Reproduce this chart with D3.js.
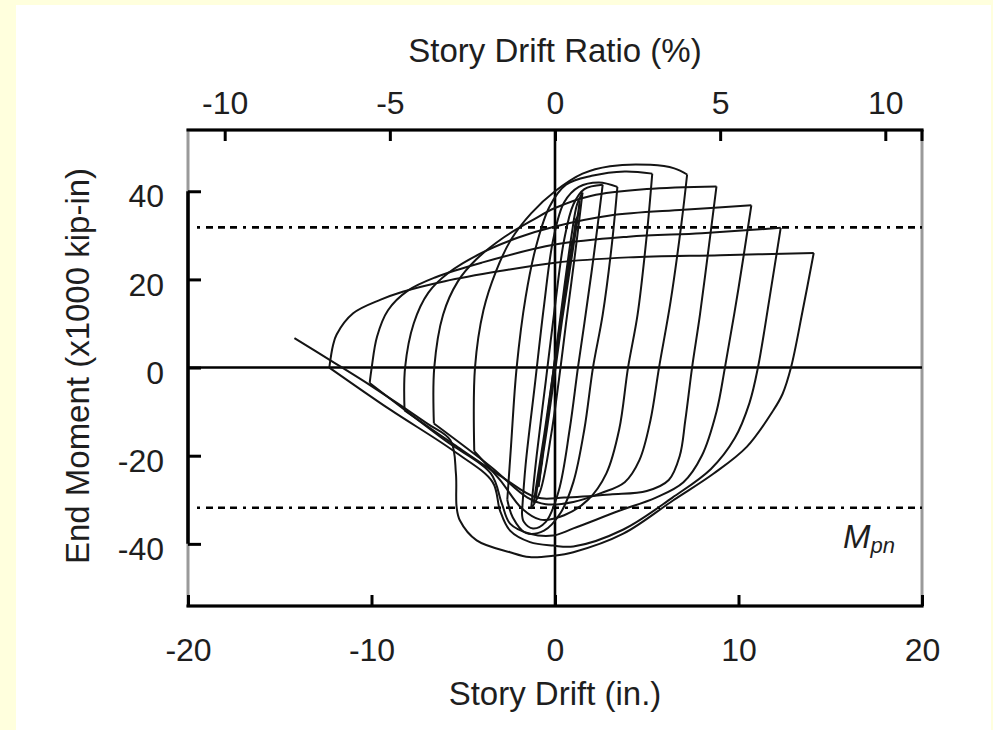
<!DOCTYPE html>
<html><head><meta charset="utf-8">
<script src="https://cdn.jsdelivr.net/npm/d3@7"></script>
<style>
html,body{margin:0;padding:0;background:#FFFFDD;}
svg{display:block;}
</style></head>
<body>
<svg id="chart" width="993" height="730"></svg>
<script>
// ---------- data ----------
const driftTicks = [-20, -10, 0, 10, 20];
const driftTickLabels = ["-20", "-10", "0", "10", "20"];
const ratioTicks = [-10, -5, 0, 5, 10];
const ratioTickLabels = ["-10", "-5", "0", "5", "10"];
const momentTicks = [40, 20, 0, -20, -40];
const momentTickLabels = ["40", "20", "0", "-20", "-40"];
const storyHeightIn = 180;       // story height, in. (1% = 1.8 in.)
const Mpn = 31.8;                // x1000 kip-in

// small elastic cycles (drift in., moment x1000 kip-in)
const elasticCycles = [[0,0],[0.3,9],[0.2,6],[-0.3,-9],[-0.2,-6],[0.5,15],[0.38,11],[-0.5,-15],[-0.38,-11],
  [0.72,22],[0.58,17],[-0.72,-22],[-0.58,-17],[0.95,29],[0.8,24],[-0.9,-27],[-0.75,-22],
  [1.15,34],[1.0,29],[-1.05,-29.5],[-0.9,-25],[1.35,38],[1.2,33],[-1.15,-30.5],[-1.0,-27],
  [0.95,29],[0.8,24],[-0.9,-27]];

// reloading half-cycles (negative peak -> positive peak)
const reloadBranches = [
  [[-0.9,-27],[-0.5,-14],[0,2],[0.5,18],[0.9,30],[1.2,37],[1.5,39.7]],
  [[-1.3,-32],[-1.0,-20],[-0.5,-3],[0,14],[0.5,29],[1.0,37],[1.6,40.5],[2.6,41.5]],
  [[-1.8,-33],[-1.6,-22],[-1.1,-4],[-0.6,14],[-0.1,29],[0.5,37.5],[1.3,41],[2.4,42],[3.4,41]],
  [[-2.6,-30],[-2.4,-18],[-2.09,0],[-1.6,16],[-1,28],[-0.3,36.5],[0.6,41.5],[2,43.5],[3.8,44.5],[5.3,44]],
  [[-4.4,-19],[-4.36,0],[-3.9,13],[-3.2,22],[-2.4,29],[-1.3,35],[0,40],[1.5,44],[3,45.7],[5.2,46],[6.5,45.2],[7.2,43.8]],
  [[-6.6,-12.7],[-6.58,0],[-6.1,12],[-5.3,19.5],[-4.3,24.5],[-2.8,29.5],[-1.2,33.5],[0,36.2],[2,39],[5,40.5],[8.8,41.1]],
  [[-8.2,-9.7],[-8.17,0],[-7.7,10],[-6.9,17],[-5.8,21.5],[-4,26],[-2,29.5],[0,32],[3,34.5],[7,35.8],[10.7,36.8]],
  [[-10.1,-3.5],[-9.99,0],[-9.7,7],[-9.1,13],[-8.0,17.5],[-6.5,20.5],[-4,23.8],[0,27.9],[4,29.7],[8,30.5],[12.3,31.7]],
  [[-12.3,0],[-12.1,5],[-11.9,7.5],[-11.0,12.3],[-9.5,15.4],[-8.3,17.2],[-6,19.6],[-3,21.9],[0,23.8],[4,25],[9,25.5],[14.1,26]]
];

// unloading half-cycles (positive peak -> negative peak)
const unloadBranches = [
  [[1.5,39.7],[1.1,26],[0.6,10],[0.3,0],[-0.2,-15],[-0.8,-28],[-1.3,-32]],
  [[2.6,41.5],[2.1,25],[1.6,10],[1.25,0],[0.8,-14],[0.2,-28],[-0.5,-35],[-1.2,-36.5],[-1.7,-35],[-1.8,-33]],
  [[3.4,41],[3.1,28],[2.6,12],[2.07,0],[1.6,-14],[1.0,-26],[0.3,-33],[-0.6,-37],[-1.6,-37.5],[-2.3,-34],[-2.6,-30]],
  [[5.3,44],[5.0,30],[4.5,12],[3.98,0],[3.5,-14],[2.8,-24],[1.8,-30],[0.5,-33.5],[-0.8,-34.5],[-1.8,-32],[-3,-25.5],[-4.4,-19]],
  [[7.2,43.8],[6.9,33],[6.3,15],[5.67,0],[5.2,-12],[4.6,-21],[3.8,-26],[2.5,-28.5],[1,-30.5],[-0.5,-31],[-1.5,-29.5],[-3.5,-22.5],[-6.6,-12.7]],
  [[8.8,41.1],[8.4,28],[7.9,12],[7.47,0],[7.1,-12],[6.8,-20],[6.2,-25.5],[5,-28],[3,-28.8],[0.5,-29.5],[-1,-29.5],[-3,-24.5],[-5.5,-17.5],[-8.2,-9.7]],
  [[10.7,36.8],[10.0,18],[9.26,0],[8.8,-10],[8.0,-20],[7.0,-26],[5.5,-29.5],[3.5,-32.5],[1,-36.5],[-0.1,-38.1],[-1.36,-37.7],[-2.45,-35.4],[-2.9,-30.8],[-3.5,-24],[-6,-16.5],[-10.1,-3.5]],
  [[12.3,31.7],[11.7,16],[11.06,0],[10.6,-8],[9.8,-16],[8.5,-23],[6.4,-29.5],[3.7,-36.8],[1,-40.6],[-0.1,-40.4],[-1.36,-39.6],[-2.45,-37],[-3,-32.4],[-3.4,-26],[-5.5,-19],[-9,-9.5],[-12.3,0]],
  [[14.1,26],[13.5,13],[12.86,0],[12.4,-6],[11.9,-9.7],[10.45,-18],[8.63,-24.1],[6.45,-30.1],[3.72,-37.7],[1.0,-41.9],[-0.1,-42.7],[-1.4,-43],[-2.45,-41.9],[-4.27,-39.2],[-5.18,-34.7],[-5.36,-31.7],[-5.4,-24],[-5.7,-16.5],[-7,-12.6],[-10,-4.2],[-12.26,1.7],[-14.2,6.7]]
];

// ---------- layout ----------
const svg = d3.select("#chart");
const L = 188, R = 922, T = 130, B = 606;
const x = d3.scaleLinear().domain([-20, 20]).range([L, R]);
const xr = d3.scaleLinear().domain([-2000 / storyHeightIn, 2000 / storyHeightIn]).range([L, R]);
const y = d3.scaleLinear().domain([-54.1, 53.9]).range([B, T]);
const FONT = "'Liberation Sans', Arial, Helvetica, sans-serif";
const INK = "#1e1e1e";

// white sheet
svg.append("rect").attr("x", 16).attr("y", 5).attr("width", 975).attr("height", 725).attr("fill", "#ffffff");

// frame (gray base)
svg.append("rect").attr("x", L).attr("y", T).attr("width", R - L).attr("height", B - T)
  .attr("fill", "none").attr("stroke", "#9a9a9a").attr("stroke-width", 3);

// zero lines
svg.append("line").attr("x1", L).attr("x2", R).attr("y1", y(0)).attr("y2", y(0))
  .attr("stroke", "#000").attr("stroke-width", 2.6);
svg.append("line").attr("x1", x(0)).attr("x2", x(0)).attr("y1", T).attr("y2", B)
  .attr("stroke", "#000").attr("stroke-width", 2.6);

// Mpn dotted lines
[Mpn, -Mpn].forEach(m => {
  svg.append("line").attr("x1", 197).attr("x2", R).attr("y1", y(m)).attr("y2", y(m))
    .attr("stroke", "#000").attr("stroke-width", 2.6)
    .attr("stroke-dasharray", "3,6,7,5,7,5,7,6");
});

// hysteresis curves
const line = d3.line().x(d => x(d[0])).y(d => y(d[1])).curve(d3.curveCatmullRom.alpha(0.5));
const curves = svg.append("g").attr("fill", "none").attr("stroke", "#141414").attr("stroke-width", 2)
  .attr("stroke-linejoin", "round");
curves.append("path").attr("d", line(elasticCycles)).attr("stroke-width", 2.2);
reloadBranches.forEach(b => curves.append("path").attr("d", line(b)));
unloadBranches.forEach(b => curves.append("path").attr("d", line(b)));

// black frame parts
svg.append("line").attr("x1", L - 1.5).attr("x2", R + 1.5).attr("y1", T).attr("y2", T).attr("stroke", "#000").attr("stroke-width", 3.2);
svg.append("line").attr("x1", L - 1.5).attr("x2", R + 1.5).attr("y1", B).attr("y2", B).attr("stroke", "#000").attr("stroke-width", 3.2);
svg.append("line").attr("x1", L).attr("x2", L).attr("y1", y(40)).attr("y2", y(-40)).attr("stroke", "#000").attr("stroke-width", 3.5);
svg.append("line").attr("x1", R).attr("x2", R).attr("y1", T).attr("y2", T + 11).attr("stroke", "#000").attr("stroke-width", 3);

// axes
function styleAxis(g) {
  g.select(".domain").remove();
  g.attr("font-family", FONT).attr("font-size", 32);
  g.selectAll(".tick line").attr("stroke", "#000").attr("stroke-width", 3);
  g.selectAll(".tick text").attr("fill", INK);
}
svg.append("g").attr("transform", `translate(0,${B})`)
  .call(d3.axisBottom(x).tickValues(driftTicks).tickFormat((d, i) => driftTickLabels[i])
    .tickSizeInner(-11).tickSizeOuter(0).tickPadding(32))
  .call(styleAxis);
svg.append("g").attr("transform", `translate(0,${T})`)
  .call(d3.axisTop(xr).tickValues(ratioTicks).tickFormat((d, i) => ratioTickLabels[i])
    .tickSizeInner(-11).tickSizeOuter(0).tickPadding(16))
  .call(styleAxis);
svg.append("g").attr("transform", `translate(${L},0)`)
  .call(d3.axisLeft(y).tickValues(momentTicks).tickFormat((d, i) => momentTickLabels[i])
    .tickSizeInner(-13).tickSizeOuter(0).tickPadding(24))
  .call(styleAxis)
  .call(g => g.selectAll(".tick text").attr("dy", "0.49em"));

// titles
svg.append("text").attr("x", 555).attr("y", 62).attr("text-anchor", "middle")
  .attr("font-family", FONT).attr("font-size", 33).attr("fill", INK).text("Story Drift Ratio (%)");
svg.append("text").attr("x", 555).attr("y", 705).attr("text-anchor", "middle")
  .attr("font-family", FONT).attr("font-size", 33).attr("fill", INK).text("Story Drift (in.)");
svg.append("text").attr("transform", "translate(89,366) rotate(-90)").attr("text-anchor", "middle")
  .attr("font-family", FONT).attr("font-size", 33).attr("fill", INK).text("End Moment (x1000 kip-in)");
const mt = svg.append("text").attr("x", 843).attr("y", 548)
  .attr("font-family", FONT).attr("font-style", "italic").attr("font-size", 33).attr("fill", INK);
mt.append("tspan").text("M");
mt.append("tspan").attr("font-size", 22).attr("dy", 5).text("pn");
</script>
</body></html>
